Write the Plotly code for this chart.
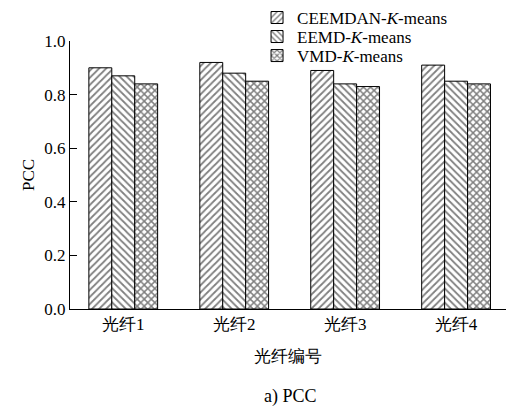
import plotly.graph_objects as go

# Fibre channels and PCC scores per decomposition method
fibres = ["光纤1", "光纤2", "光纤3", "光纤4"]
ceemdan_kmeans = [0.90, 0.92, 0.89, 0.91]
eemd_kmeans = [0.87, 0.88, 0.84, 0.85]
vmd_kmeans = [0.84, 0.85, 0.83, 0.84]

y_ticks = [0.0, 0.2, 0.4, 0.6, 0.8, 1.0]
y_tick_labels = ["0.0", "0.2", "0.4", "0.6", "0.8", "1.0"]

serif = "Liberation Serif"
fs = 17

# name, values, hatch, hatch density, legend slot and its vertical position
series = [
    ("CEEMDAN-<i>K</i>-means", ceemdan_kmeans, "/", 0.35, "legend", 1.086),
    ("EEMD-<i>K</i>-means", eemd_kmeans, "\\", 0.35, "legend2", 1.015),
    ("VMD-<i>K</i>-means", vmd_kmeans, "x", 0.5, "legend3", 0.944),
]

fig = go.Figure()
legends = {}
for name, vals, shape, solid, leg, ly in series:
    fig.add_trace(go.Bar(
        x=fibres, y=vals, name=name, legend=leg,
        marker=dict(
            color="white",
            line=dict(color="black", width=1),
            pattern=dict(shape=shape, fgcolor="black", bgcolor="white",
                         size=5, solidity=solid),
        ),
    ))
    legends[leg] = dict(
        x=0.429, y=ly, xanchor="left", yanchor="middle",
        bgcolor="rgba(0,0,0,0)",
        font=dict(family=serif, size=fs, color="black"),
        itemwidth=30,
    )

fig.update_layout(
    width=509, height=410,
    margin=dict(l=70, r=3, t=41, b=101, autoexpand=False),
    plot_bgcolor="white", paper_bgcolor="white",
    barmode="group", bargap=0.38, bargroupgap=0,
    font=dict(family=serif, size=fs, color="black"),
    showlegend=True,
    xaxis=dict(
        range=[-0.48, 3.45],
        showline=True, linecolor="black", linewidth=1,
        ticks="", showgrid=False, zeroline=False,
        tickfont=dict(family=serif, size=fs),
        title=dict(text="光纤编号", font=dict(family=serif, size=fs), standoff=16),
    ),
    yaxis=dict(
        range=[0, 1.0],
        tickvals=y_ticks, ticktext=y_tick_labels,
        showline=True, linecolor="black", linewidth=1,
        ticks="inside", ticklen=7, tickcolor="black",
        showgrid=False, zeroline=False,
        tickfont=dict(family=serif, size=fs),
        title=dict(text="PCC", font=dict(family=serif, size=fs), standoff=5),
    ),
    annotations=[dict(
        text="a) PCC", xref="paper", yref="paper",
        x=0.505, y=-0.325, xanchor="center", yanchor="middle",
        showarrow=False, font=dict(family=serif, size=18),
    )],
    **legends,
)

fig.write_html("out.html")
